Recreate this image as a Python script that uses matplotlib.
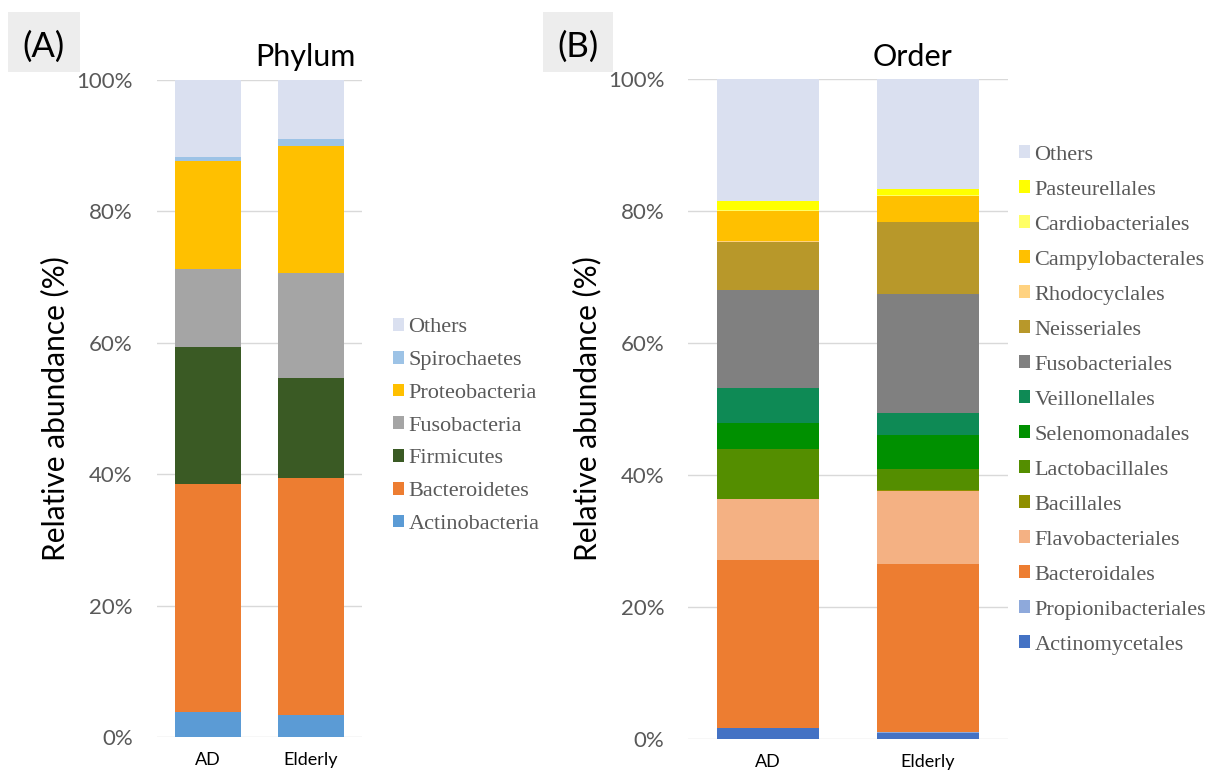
"""
微生物组相对丰度堆叠柱状图 (Phylum / Order)
"""
import numpy as np
import matplotlib.pyplot as plt
from matplotlib.patches import Patch, Rectangle

# ============================================================
#                    数据
# ============================================================
GROUPS = ['AD', 'Elderly']

# 门水平 (%), 自下而上
PHYLUM_NAMES = ['Actinobacteria', 'Bacteroidetes', 'Firmicutes', 'Fusobacteria',
                'Proteobacteria', 'Spirochaetes', 'Others']
PHYLUM_AD = [3.8, 34.7, 20.9, 11.9, 16.3, 0.7, 11.7]
PHYLUM_ELDERLY = [3.4, 36.0, 15.2, 16.1, 19.3, 1.0, 9.0]
PHYLUM_COLORS = ['#5B9BD5', '#ED7D31', '#3A5A24', '#A5A5A5',
                 '#FFC000', '#9DC3E6', '#DAE0F0']

# 目水平 (%), 自下而上
ORDER_NAMES = ['Actinomycetales', 'Propionibacteriales', 'Bacteroidales',
               'Flavobacteriales', 'Bacillales', 'Lactobacillales',
               'Selenomonadales', 'Veillonellales', 'Fusobacteriales',
               'Neisseriales', 'Rhodocyclales', 'Campylobacterales',
               'Cardiobacteriales', 'Pasteurellales', 'Others']
ORDER_AD = [1.6, 0.1, 25.4, 9.2, 0.1, 7.6, 3.9, 5.3, 14.8,
            7.3, 0.1, 4.6, 0.2, 1.3, 18.5]
ORDER_ELDERLY = [0.9, 0.1, 25.5, 11.1, 0.2, 3.1, 5.2, 3.3, 18.0,
                 10.9, 0.1, 3.8, 0.2, 1.0, 16.6]
ORDER_COLORS = ['#4472C4', '#8EA9DB', '#ED7D31', '#F4B183', '#8F8F00',
                '#548E00', '#009000', '#0E8A55', '#808080', '#B8982A',
                '#FFD280', '#FFC000', '#FFFF66', '#FFFF00', '#DAE0F0']

# ============================================================
#                    绘图
# ============================================================
W, H = 1212, 778
plt.rcParams['font.family'] = ['Lato', 'DejaVu Sans']

fig = plt.figure(figsize=(W / 100, H / 100), dpi=100)


def px_axes(x0, y_top, x1, y_bottom):
    return fig.add_axes([x0 / W, 1 - y_bottom / H, (x1 - x0) / W, (y_bottom - y_top) / H])


def draw_stack(ax, names, ad, eld, colors):
    x = np.arange(len(GROUPS))
    bottom = np.zeros(len(GROUPS))
    for name, a, e, c in zip(names, ad, eld, colors):
        vals = np.array([a, e])
        ax.bar(x, vals, bottom=bottom, width=0.64, color=c, label=name, zorder=3)
        bottom += vals

    ax.set_xlim(-0.5, 1.5)
    ax.set_ylim(0, 100)
    ax.set_yticks(np.arange(0, 101, 20))
    ax.set_yticklabels([f'{v}%' for v in range(0, 101, 20)])
    ax.set_xticks(x)
    ax.set_xticklabels(GROUPS)
    ax.grid(axis='y', color='#D9D9D9', linewidth=1, zorder=0)
    for s in ax.spines.values():
        s.set_visible(False)
    ax.tick_params(axis='both', length=0)
    ax.tick_params(axis='y', labelsize=16, labelcolor='#595959', pad=17)
    ax.tick_params(axis='x', labelsize=13, labelcolor='black', pad=11)
    ax.set_ylabel('Relative abundance (%)', fontsize=21.5, labelpad=5)


def panel_header(title, title_x, letter, box):
    # box = (x0, y0, x1, y1) 像素
    x0, y0, x1, y1 = box
    fig.patches.append(Rectangle((x0 / W, 1 - y1 / H), (x1 - x0) / W, (y1 - y0) / H,
                                 transform=fig.transFigure, facecolor='#EDEDED',
                                 edgecolor='none', zorder=0))
    fig.text((x0 + x1) / 2 / W, 1 - 47 / H, letter, fontsize=25,
             ha='center', va='center')
    fig.text(title_x / W, 1 - 66 / H, title, fontsize=22, ha='center', va='baseline')


axA = px_axes(156.5, 80, 362.5, 737)
draw_stack(axA, PHYLUM_NAMES, PHYLUM_AD, PHYLUM_ELDERLY, PHYLUM_COLORS)
panel_header('Phylum', 305, '(A)', (8, 12, 80, 72))

axB = px_axes(688, 79, 1008, 739)
draw_stack(axB, ORDER_NAMES, ORDER_AD, ORDER_ELDERLY, ORDER_COLORS)
panel_header('Order', 912, '(B)', (543, 12, 613, 72))


# 图例 (倒序, Others 在上)
def add_legend(names, colors, x, y_center, spacing):
    handles = [Patch(facecolor=c, edgecolor='none') for c in colors][::-1]
    fig.legend(handles, names[::-1], loc='center left',
               bbox_to_anchor=(x / W, 1 - y_center / H), frameon=False,
               prop={'family': 'Liberation Serif', 'size': 16},
               labelcolor='#595959', handlelength=0.5, handleheight=0.5,
               handletextpad=0.2, labelspacing=spacing, borderpad=0,
               borderaxespad=0)


add_legend(PHYLUM_NAMES, PHYLUM_COLORS, 393, 426, 0.61)
add_legend(ORDER_NAMES, ORDER_COLORS, 1019, 400, 0.71)

fig.savefig('out.png', dpi=100)
